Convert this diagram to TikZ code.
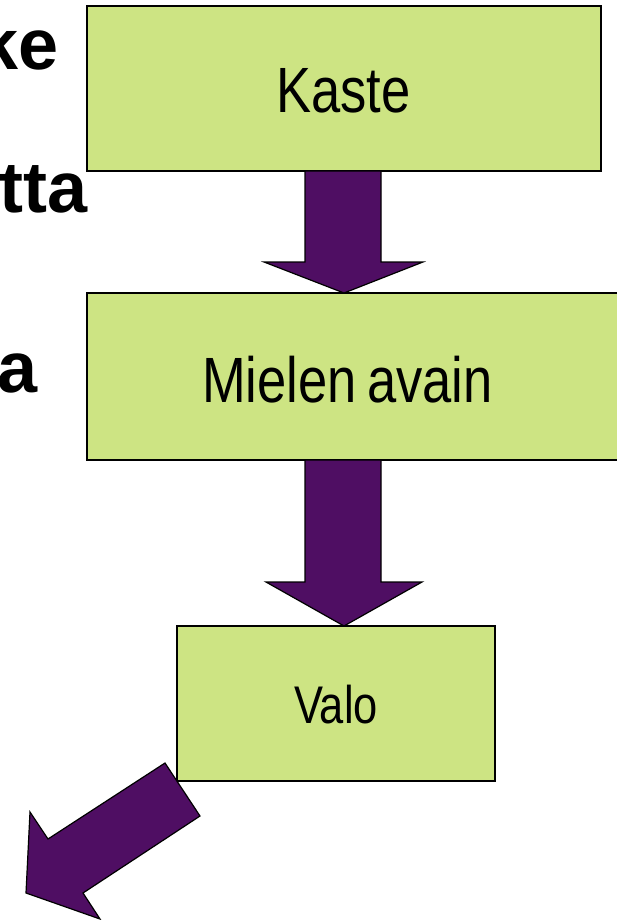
\documentclass[tikz,border=0pt]{standalone}
\usepackage{fontspec}
\setmainfont{Liberation Sans}
\newfontfamily\narrowfont[FakeStretch=0.82]{Liberation Sans}
\definecolor{boxgreen}{RGB}{205,228,131}
\definecolor{arrowpurple}{RGB}{79,14,99}
\begin{document}
\begin{tikzpicture}[x=1pt,y=-1pt,
  box/.style={draw=black,line width=1.5pt,fill=boxgreen,rectangle,inner sep=0pt},
  boxtext/.style={anchor=base,inner sep=0pt,font=\narrowfont\fontsize{64}{64}\selectfont},
  sidetext/.style={anchor=base east,inner sep=0pt,font=\bfseries\fontsize{72}{72}\selectfont},
  blockarrow/.style={draw=black,line width=1.2pt,fill=arrowpurple,line join=miter}]
\useasboundingbox (0,0) rectangle (617,920);
\begin{scope}
\clip (0,0) rectangle (617,920);
% side texts (clipped fragments)
\node[sidetext] (t1) at (59,70) {ke};
\node[sidetext] (t2) at (88,212) {tta};
\node[sidetext] (t3) at (38,392) {a};
% boxes
\node[box,minimum width=514pt,minimum height=165pt] (kaste) at (344,88.5) {};
\node[box,minimum width=553pt,minimum height=167pt] (mielen) at (363.5,376.5) {};
\node[box,minimum width=318pt,minimum height=155pt] (valo) at (336,703.5) {};
\node[boxtext] (kastetxt) at (343.5,113) {Kaste};
\node[boxtext] (mielentxt) at (347.5,402) {Mielen\hspace{-4pt} avain};
\node[boxtext,font=\narrowfont\fontsize{53}{53}\selectfont] (valotxt) at (336,723) {Valo};
% block arrows
\draw[blockarrow] (305,171) -- (381,171) -- (381,262) -- (423,262) -- (344,293) -- (264,262) -- (305,262) -- cycle;
\draw[blockarrow] (305,460) -- (381,460) -- (381,582) -- (422,582) -- (344,626) -- (266,582) -- (305,582) -- cycle;
\draw[blockarrow] (165,763) -- (200,816) -- (83,893) -- (100,919) -- (26,893) -- (30,812) -- (48,839) -- cycle;
\end{scope}
\end{tikzpicture}
\end{document}
